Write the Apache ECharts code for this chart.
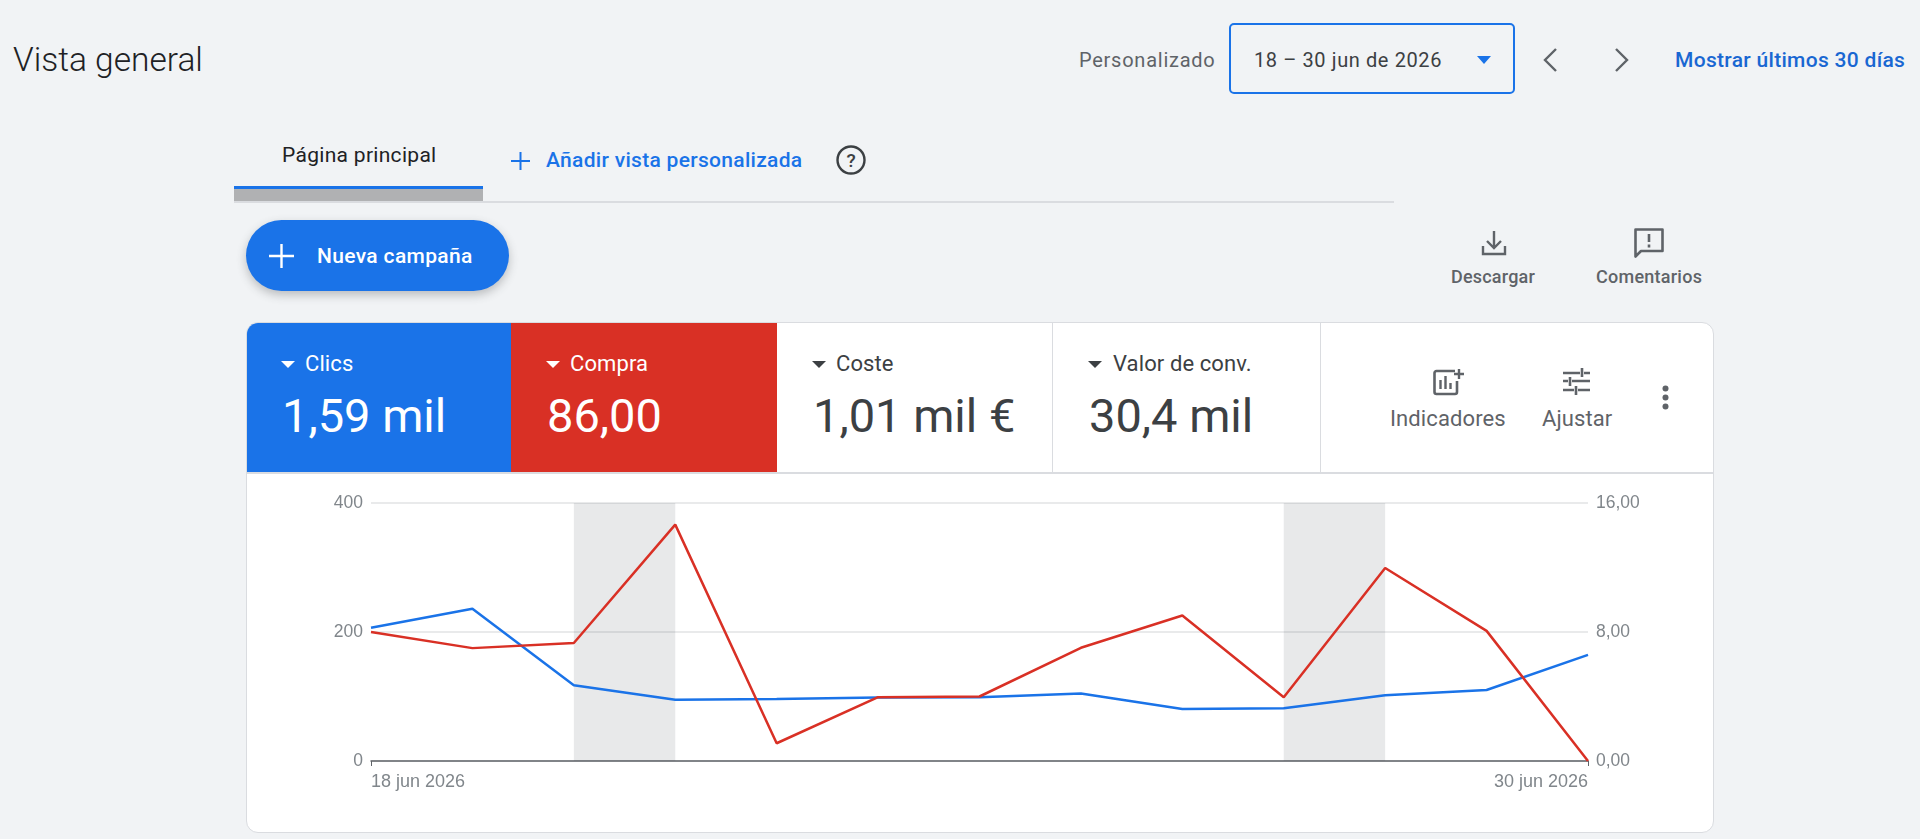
<!DOCTYPE html>
<html lang="es">
<head>
    <meta charset="UTF-8">
    <title>Vista general</title>
    <script src="https://cdn.jsdelivr.net/npm/echarts@6/dist/echarts.min.js"></script>
    <style>
        html, body { margin: 0; padding: 0; width: 1920px; height: 839px; overflow: hidden; background: #f1f3f5; font-family: Roboto, sans-serif; }
        .t { position: absolute; white-space: nowrap; height: 30px; line-height: 30px; }
        .box { position: absolute; box-sizing: border-box; }
        svg { position: absolute; overflow: visible; }
        .cell-label { font-size: 22px; letter-spacing: .1px; }
        .cell-value { font-size: 47px; font-weight: 400; height: 60px; line-height: 60px; }
        .grey { color: #5f6368; }
        .dark { color: #3c4043; }
        .blue { color: #1a73e8; }
        .white { color: #fff; }
        #myChart { position: absolute; left: 247px; top: 473px; width: 1466px; height: 358px; }
    </style>
</head>
<body>
    <!-- cabecera -->
    <div class="t" style="left:13px;top:45px;font-size:33.5px;color:#202124;font-weight:300">Vista general</div>
    <div class="t grey" style="left:1079px;top:45px;font-size:20px;letter-spacing:.75px">Personalizado</div>
    <div class="box" style="left:1229px;top:23px;width:286px;height:71px;border:2.5px solid #1a73e8;border-radius:5px"></div>
    <div class="t dark" style="left:1254px;top:45px;font-size:20px;letter-spacing:.6px">18 – 30 jun de 2026</div>
    <svg style="left:1477px;top:56px" width="14" height="8"><path d="M0 0H14L7 8Z" fill="#1a73e8"/></svg>
    <svg style="left:1543px;top:48px" width="14" height="24"><path d="M13 1L2 12L13 23" fill="none" stroke="#5f6368" stroke-width="2.4"/></svg>
    <svg style="left:1615px;top:48px" width="14" height="24"><path d="M1 1L12 12L1 23" fill="none" stroke="#5f6368" stroke-width="2.4"/></svg>
    <div class="t" style="left:1675px;top:45px;font-size:21px;font-weight:500;color:#1967d2;letter-spacing:.3px">Mostrar últimos 30 días</div>

    <!-- pestañas -->
    <div class="t" style="left:282px;top:140px;font-size:21px;color:#202124;font-weight:400;letter-spacing:.3px">Página principal</div>
    <div class="box" style="left:234px;top:186px;width:249px;height:3px;background:#1a73e8"></div>
    <div class="box" style="left:234px;top:189px;width:249px;height:12px;background:#b0b1b3"></div>
    <div class="box" style="left:234px;top:201px;width:1160px;height:1.5px;background:#dadce0"></div>
    <svg style="left:511px;top:152px" width="19" height="18"><path d="M9.5 0V18M0 9H19" stroke="#1a73e8" stroke-width="2"/></svg>
    <div class="t blue" style="left:546px;top:145px;font-size:21px;font-weight:500;letter-spacing:.3px">Añadir vista personalizada</div>
    <svg style="left:836px;top:145px" width="30" height="30"><circle cx="15" cy="15" r="13.5" fill="none" stroke="#3c4043" stroke-width="2.4"/><text x="15" y="21.5" text-anchor="middle" font-size="19" font-family="Roboto" font-weight="500" fill="#3c4043">?</text></svg>

    <!-- botón y acciones -->
    <div class="box" style="left:246px;top:220px;width:263px;height:71px;border-radius:36px;background:#1a73e8;box-shadow:0 4px 10px rgba(60,64,67,.3)"></div>
    <svg style="left:269px;top:244px" width="25" height="24"><path d="M12.5 0V24M0 12H25" stroke="#fff" stroke-width="2.4"/></svg>
    <div class="t white" style="left:317px;top:241px;font-size:21px;font-weight:500;letter-spacing:.35px">Nueva campaña</div>
    <svg style="left:1482px;top:231px" width="24" height="24"><path d="M12 0V16M5 10L12 17L19 10M1 15V23H23V15" fill="none" stroke="#5f6368" stroke-width="2.4"/></svg>
    <div class="t grey" style="left:1451px;top:262px;font-size:18px;font-weight:500;letter-spacing:.2px">Descargar</div>
    <svg style="left:1634px;top:228px" width="30" height="30"><path d="M1.5 1.5H28.5V23H7L1.5 28.5Z" fill="none" stroke="#5f6368" stroke-width="2.6" stroke-linejoin="round"/><path d="M15 6V14M15 16.5V19.5" stroke="#5f6368" stroke-width="2.6"/></svg>
    <div class="t grey" style="left:1596px;top:262px;font-size:18px;font-weight:500;letter-spacing:.25px">Comentarios</div>

    <!-- tarjeta -->
    <div class="box" style="left:246px;top:322px;height:511px;width:1468px;background:#fff;border:1px solid #dadce0;border-radius:12px"></div>
    <div class="box" style="left:247px;top:323px;width:264px;height:149px;background:#1a73e8;border-top-left-radius:11px"></div>
    <div class="box" style="left:511px;top:323px;width:266px;height:149px;background:#d93025"></div>
    <div class="box" style="left:1052px;top:323px;width:1px;height:149px;background:#dadce0"></div>
    <div class="box" style="left:1320px;top:323px;width:1px;height:149px;background:#dadce0"></div>
    <div class="box" style="left:247px;top:472px;width:1466px;height:1.5px;background:#dadce0"></div>

    <svg style="left:281px;top:361px" width="14" height="7"><path d="M0 0H14L7 7Z" fill="#fff"/></svg>
    <div class="t cell-label white" style="left:305px;top:349px">Clics</div>
    <div class="t cell-value white" style="left:282px;top:386px">1,59 mil</div>
    <svg style="left:546px;top:361px" width="14" height="7"><path d="M0 0H14L7 7Z" fill="#fff"/></svg>
    <div class="t cell-label white" style="left:570px;top:349px">Compra</div>
    <div class="t cell-value white" style="left:547px;top:386px">86,00</div>
    <svg style="left:812px;top:361px" width="14" height="7"><path d="M0 0H14L7 7Z" fill="#3c4043"/></svg>
    <div class="t cell-label dark" style="left:836px;top:349px">Coste</div>
    <div class="t cell-value dark" style="left:813px;top:386px">1,01 mil €</div>
    <svg style="left:1088px;top:361px" width="14" height="7"><path d="M0 0H14L7 7Z" fill="#3c4043"/></svg>
    <div class="t cell-label dark" style="left:1113px;top:349px">Valor de conv.</div>
    <div class="t cell-value dark" style="left:1089px;top:386px">30,4 mil</div>

    <svg style="left:1433px;top:368px" width="32" height="28"><path d="M22 3H3.5A2 2 0 0 0 1.5 5V24A2 2 0 0 0 3.5 26H22A2 2 0 0 0 24 24V13" fill="none" stroke="#5f6368" stroke-width="2.6"/><path d="M7.5 12V21M12.5 8V21M17.5 15V21M26 1V11M21 6H31" stroke="#5f6368" stroke-width="2.4"/></svg>
    <div class="t grey" style="left:1390px;top:404px;font-size:22px;letter-spacing:.1px">Indicadores</div>
    <svg style="left:1563px;top:368px" width="27" height="27"><path d="M0 5H17M21 5H27M19 0V9M0 13H5M9 13H27M7 9V18M0 22H11M15 22H27M13 18V27" fill="none" stroke="#5f6368" stroke-width="2.6"/></svg>
    <div class="t grey" style="left:1542px;top:404px;font-size:22px;letter-spacing:.1px">Ajustar</div>
    <svg style="left:1662px;top:385px" width="7" height="25"><circle cx="3.5" cy="3.5" r="3" fill="#5f6368"/><circle cx="3.5" cy="12.5" r="3" fill="#5f6368"/><circle cx="3.5" cy="21.5" r="3" fill="#5f6368"/></svg>

    <div id="myChart"></div>

    <script>
        var categories = ['18 jun 2026', '19 jun 2026', '20 jun 2026', '21 jun 2026', '22 jun 2026', '23 jun 2026', '24 jun 2026', '25 jun 2026', '26 jun 2026', '27 jun 2026', '28 jun 2026', '29 jun 2026', '30 jun 2026'];
        var clics = [206.6, 236, 117.4, 95, 96, 98.5, 99, 104.5, 80.7, 81.8, 102, 110, 164.6];
        var compra = [8, 7, 7.32, 14.66, 1.1, 3.96, 4, 7.02, 9.02, 3.95, 11.97, 8.07, 0];
        var fines = [['20 jun 2026', '21 jun 2026'], ['27 jun 2026', '28 jun 2026']];
        var labelColor = '#80868b';

        var myChart = echarts.init(document.getElementById('myChart'));
        var option = {
            animation: false,
            grid: { left: 124, right: 125, top: 30, bottom: 70 },
            xAxis: {
                type: 'category',
                boundaryGap: false,
                data: categories,
                axisLine: { lineStyle: { color: '#5f6368', width: 1.5 } },
                axisTick: {
                    length: 5,
                    lineStyle: { color: '#5f6368' },
                    interval: function (i) { return i === 0 || i === categories.length - 1; }
                },
                axisLabel: {
                    color: labelColor,
                    fontSize: 18,
                    margin: 12,
                    alignMinLabel: 'left',
                    alignMaxLabel: 'right',
                    interval: function (i) { return i === 0 || i === categories.length - 1; }
                }
            },
            yAxis: [
                {
                    type: 'value',
                    min: 0,
                    max: 400,
                    interval: 200,
                    axisLine: { show: false },
                    axisTick: { show: false },
                    splitLine: { lineStyle: { color: '#e2e3e5', width: 1.5 } },
                    axisLabel: { color: labelColor, fontSize: 17.5, margin: 8, padding: [2, 0, 0, 0] }
                },
                {
                    type: 'value',
                    min: 0,
                    max: 16,
                    interval: 8,
                    axisLine: { show: false },
                    axisTick: { show: false },
                    splitLine: { show: false },
                    axisLabel: {
                        color: labelColor,
                        fontSize: 17.5,
                        margin: 8,
                        padding: [2, 0, 0, 0],
                        formatter: function (v) { return v.toFixed(2).replace('.', ','); }
                    }
                }
            ],
            series: [
                {
                    name: 'Clics',
                    type: 'line',
                    data: clics,
                    showSymbol: false,
                    clip: false,
                    lineStyle: { color: '#1a73e8', width: 2.5 },
                    markArea: {
                        silent: true,
                        itemStyle: { color: 'rgba(50,58,70,0.115)' },
                        data: fines.map(function (f) { return [{ xAxis: f[0] }, { xAxis: f[1] }]; })
                    }
                },
                {
                    name: 'Compra',
                    type: 'line',
                    yAxisIndex: 1,
                    data: compra,
                    showSymbol: false,
                    clip: false,
                    lineStyle: { color: '#d93025', width: 2.5 }
                }
            ]
        };
        myChart.setOption(option);
    </script>
</body>
</html>
